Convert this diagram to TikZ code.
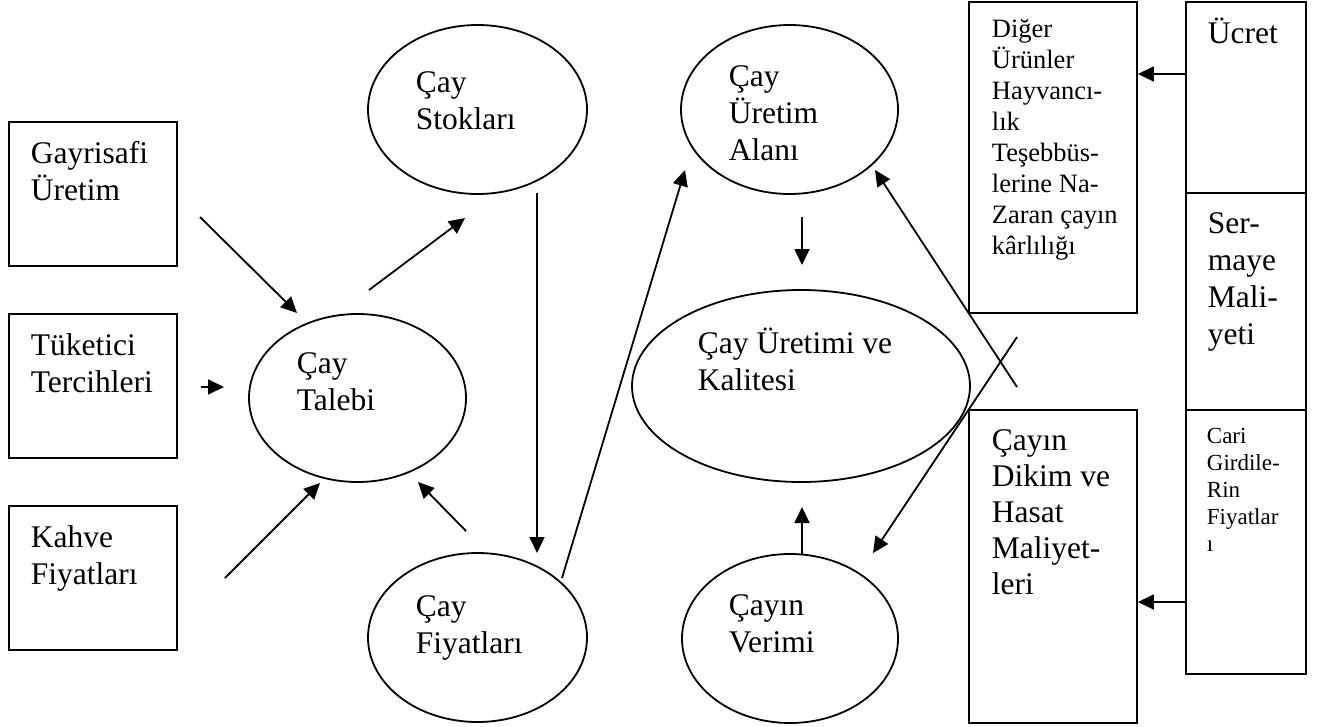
\documentclass[tikz,border=0pt]{standalone}
\usepackage{fontspec}
\setmainfont{Liberation Serif}
\usetikzlibrary{shapes.geometric,arrows.meta}
% left-aligned stack of lines whose baseline is the first line's baseline
\newcommand\mlines[1]{\vtop{\halign{##\hfil\cr#1\crcr}}}
\begin{document}
\begin{tikzpicture}[x=1pt,y=-1pt,
  line width=1.8pt,
  ell/.style={draw, ellipse, inner sep=0pt},
  box/.style={draw, rectangle, inner sep=0pt},
  lbl/.style={inner sep=0pt, anchor=base west, font=\fontsize{31.5}{37}\selectfont},
  lblmid/.style={lbl, font=\fontsize{31.5}{36}\selectfont},
  lblsmall/.style={lbl, font=\fontsize{26.5}{31}\selectfont},
  lbltiny/.style={lbl, font=\fontsize{23}{27}\selectfont},
  arr/.style={-{Triangle[length=16pt,width=15pt]}}]

\fill[white] (0,0) rectangle (1325,726);
\useasboundingbox (0,0) rectangle (1325,726);

% ---- left column of boxes
\node[box, minimum width=168pt, minimum height=144pt] (gsu) at (93,194) {};
\node[box, minimum width=168pt, minimum height=144pt] (tuk) at (93,386) {};
\node[box, minimum width=168pt, minimum height=144pt] (kah) at (93,578) {};
\node[lbl] (gsuT) at (30,163) {\mlines{Gayrisafi\cr Üretim}};
\node[lbl] (tukT) at (30,355) {\mlines{Tüketici\cr Tercihleri}};
\node[lbl] (kahT) at (30,547) {\mlines{Kahve\cr Fiyatları}};

% ---- ellipses
\node[ell, minimum width=217pt, minimum height=168pt] (tal) at (357.5,398) {};
\node[ell, minimum width=219pt, minimum height=169pt] (sto) at (477.5,109.5) {};
\node[ell, minimum width=219pt, minimum height=169pt] (fiy) at (477.5,637.5) {};
\node[ell, minimum width=217pt, minimum height=169pt] (ala) at (789.5,109.5) {};
\node[ell, minimum width=338pt, minimum height=192pt] (ure) at (801,386) {};
\node[ell, minimum width=216pt, minimum height=169pt] (ver) at (790,638.5) {};
\node[lbl] (talT) at (296,373) {\mlines{Çay\cr Talebi}};
\node[lbl] (stoT) at (415,92) {\mlines{Çay\cr Stokları}};
\node[lbl] (fiyT) at (415,616) {\mlines{Çay\cr Fiyatları}};
\node[lbl] (alaT) at (728,86) {\mlines{Çay\cr Üretim\cr Alanı}};
\node[lbl] (ureT) at (697,353) {\mlines{Çay Üretimi ve\cr Kalitesi}};
\node[lbl] (verT) at (728,615) {\mlines{Çayın\cr Verimi}};

% ---- right-hand boxes
\node[box, minimum width=168pt, minimum height=311pt] (dig) at (1053,157.5) {};
\node[box, minimum width=168pt, minimum height=313pt] (dik) at (1053,566.5) {};
\node[box, minimum width=120pt, minimum height=191pt] (ucr) at (1246,97.5) {};
\node[box, minimum width=120pt, minimum height=217pt] (ser) at (1246,301.5) {};
\node[box, minimum width=120pt, minimum height=264pt] (car) at (1246,542) {};
\node[lblsmall] (digT) at (991,37) {\mlines{Diğer\cr Ürünler\cr Hayvancı-\cr lık\cr Teşebbüs-\cr lerine Na-\cr Zaran çayın\cr kârlılığı}};
\node[lblmid] (dikT) at (991,450) {\mlines{Çayın\cr Dikim ve\cr Hasat\cr Maliyet-\cr leri}};
\node[lbl] (ucrT) at (1207,43) {Ücret};
\node[lbl] (serT) at (1207,233) {\mlines{Ser-\cr maye\cr Mali-\cr yeti}};
\node[lbltiny] (carT) at (1206,443) {\mlines{Cari\cr Girdile-\cr Rin\cr Fiyatlar\cr ı}};

% ---- free ends of the connectors
\coordinate (g1) at (200,217);  \coordinate (g2) at (297,313);
\coordinate (t1) at (201,387);  \coordinate (t2) at (224,387);
\coordinate (k1) at (225,578);  \coordinate (k2) at (320,483);
\coordinate (s1) at (369,290);  \coordinate (s2) at (465,218);
\coordinate (f1) at (466,531);  \coordinate (f2) at (418,482);
\coordinate (v1) at (537,193);  \coordinate (v2) at (537,553);
\coordinate (p1) at (562,578);  \coordinate (p2) at (685,170);
\coordinate (d1) at (802,217);  \coordinate (d2) at (802,265);
\coordinate (u1) at (802,555);  \coordinate (u2) at (802,507);
\coordinate (x1) at (1017,387); \coordinate (x2) at (875,170);
\coordinate (y1) at (1017,337); \coordinate (y2) at (873,553);
\coordinate (r1) at (0,74);
\coordinate (r2) at (0,602);

% ---- connectors
\draw[arr] (g1) -- (g2);
\draw[arr] (t1) -- (t2);
\draw[arr] (k1) -- (k2);
\draw[arr] (s1) -- (s2);
\draw[arr] (f1) -- (f2);
\draw[arr] (v1) -- (v2);
\draw[arr] (p1) -- (p2);
\draw[arr] (d1) -- (d2);
\draw[arr] (u1) -- (u2);
\draw[arr] (x1) -- (x2);
\draw[arr] (y1) -- (y2);
\draw[arr] (ucr.west |- r1) -- (dig.east |- r1);
\draw[arr] (car.west |- r2) -- (dik.east |- r2);
\end{tikzpicture}
\end{document}
